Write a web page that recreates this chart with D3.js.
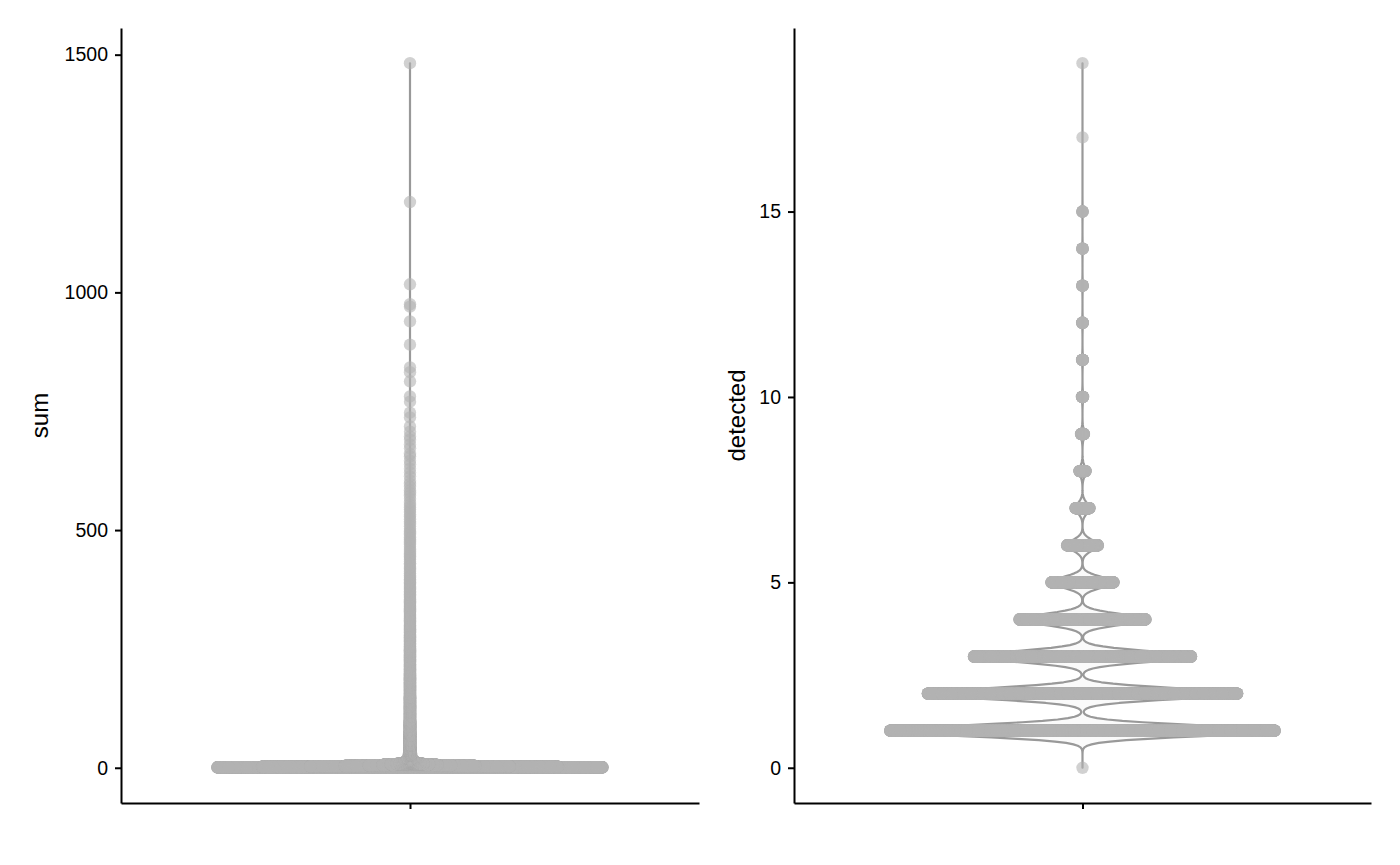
<!DOCTYPE html>
<html><head><meta charset="utf-8">
<script src="https://cdn.jsdelivr.net/npm/d3@7"></script>
<style>body{margin:0;background:#fff}svg{display:block}</style>
</head><body>
<svg id="chart" width="1400" height="865"></svg>
<script>
// ---------- data ----------
const detectedLevels = [0,1,2,3,4,5,6,7,8,9,10,11,12,13,14,15,17,19];
const detectedCounts = [1,6500,5230,3670,2130,1050,520,235,105,50,20,15,12,10,8,6,1,1];

const sumLowValues = [0,1,2,3,4,5,6,7,8,9,10,11,12,13,14,15,16,17,18,19,20];
const sumLowCounts = [1,5600,4300,2900,1900,1200,800,560,400,300,230,180,150,120,100,85,72,62,54,47,42];
// histogram of the dense "stem" of sums (bin edges and counts)
const sumStemBreaks = [20,30,50,75,100,150,200,250,300,350,400,450,500,550,600,650];
const sumStemCounts = [300,350,200,120,120,70,45,32,24,18,14,12,10,8,6];
// individually visible high sums
const sumTailValues = [655,660,672,680,690,697,707,718,737,747,770,781,813,832,842,890,939,970,975,1017,1190,1482];

const sumTicks = [0,500,1000,1500];
const detectedTicks = [0,5,10,15];
const categories = [""];
const violinAdjust = 0.8;

// ---------- helpers ----------
function expandCounts(vals, counts){
  const out=[]; vals.forEach((v,i)=>{for(let k=0;k<counts[i];k++) out.push(v);}); return out;
}
function expandHist(breaks, counts){
  const out=[];
  counts.forEach((c,i)=>{const a=breaks[i], b=breaks[i+1];
    for(let k=0;k<c;k++) out.push(Math.round(a+(k+0.5)*(b-a)/c));});
  return out;
}
function quantile7(sorted,p){const h=(sorted.length-1)*p, lo=Math.floor(h);
  return sorted[lo]+(h-lo)*((sorted[Math.min(lo+1,sorted.length-1)])-sorted[lo]);}
function nrd0(vals){
  const s=vals.slice().sort((a,b)=>a-b);
  const sd=d3.deviation(s); const iqr=quantile7(s,0.75)-quantile7(s,0.25);
  let lo=Math.min(sd, iqr/1.34); if(!(lo>0)) lo = sd || Math.abs(s[0]) || 1;
  return 0.9*lo*Math.pow(s.length,-0.2);
}
function kdeFactory(vals,bw){
  const m=d3.rollup(vals,v=>v.length,d=>d);
  const u=[...m.keys()], c=u.map(k=>m.get(k));
  return y=>{let s=0; for(let j=0;j<u.length;j++){const z=(y-u[j])/bw; if(Math.abs(z)<9) s+=c[j]*Math.exp(-0.5*z*z);} return s;};
}
function vdc(n){ // van der Corput, base 2
  let r=0, f=0.5; while(n>0){ r+=f*(n&1); n>>=1; f*=0.5;} return r;
}

// ---------- layout ----------
const svg=d3.select("#chart");
const FONT='"Liberation Sans", Arial, Helvetica, sans-serif';

function panel(values, ticks, xr, title, titleX){
  const yTop=28, yBot=803;
  const [mn,mx]=d3.extent(values);
  const pad=(mx-mn)*0.05;
  const y=d3.scaleLinear().domain([mn-pad,mx+pad]).range([yBot,yTop]);
  const x=d3.scalePoint().domain(categories).range(xr).padding(0.6);
  const xc=x(categories[0]), step=x.step();
  const g=svg.append("g");

  // violin (ggplot stat_ydensity: 512 grid, trim, scale="width", width=0.8)
  const bw=nrd0(values)*violinAdjust;
  const kde=kdeFactory(values,bw);
  const grid=d3.range(512).map(i=>mn+(mx-mn)*i/511);
  const dens=grid.map(kde); const dmax=d3.max(dens);
  const vdata=grid.map((v,i)=>({v, w:dens[i]/dmax}));
  const area=d3.area().x0(d=>xc-d.w*0.4*step).x1(d=>xc+d.w*0.4*step).y(d=>y(d.v));
  g.append("path").datum(vdata).attr("d",area)
    .attr("fill","#e5e5e5").attr("fill-opacity",0.2)
    .attr("stroke","#999999").attr("stroke-width",2.2).attr("stroke-linejoin","round");

  // quasirandom points (vipor-like, adjust=0.5, width=0.4)
  const kde2=kdeFactory(values,nrd0(values)*0.5);
  const uniq=[...new Set(values)];
  const dmap=new Map(uniq.map(u=>[u,kde2(u)]));
  const d2max=d3.max([...dmap.values()]);
  const sorted=values.slice().sort((a,b)=>a-b);
  const pts=sorted.map((v,i)=>({v, off:(vdc(i+1)-0.5)*2*(dmap.get(v)/d2max)*0.4*step}));
  g.append("g").selectAll("circle").data(pts).join("circle")
    .attr("cx",d=>xc+d.off).attr("cy",d=>y(d.v)).attr("r",6.2)
    .attr("fill","#b3b3b3").attr("fill-opacity",0.6);

  // axes
  const ya=g.append("g").attr("transform",`translate(${xr[0]},0)`)
    .call(d3.axisLeft(y).tickValues(ticks).tickFormat(d3.format("d")).tickSize(6).tickSizeOuter(0).tickPadding(7));
  const xa=g.append("g").attr("transform",`translate(0,${yBot})`)
    .call(d3.axisBottom(x).tickSize(6).tickSizeOuter(0).tickFormat(()=>""));
  [ya,xa].forEach(a=>{
    a.select(".domain").attr("stroke","#000").attr("stroke-width",2);
    a.selectAll(".tick line").attr("stroke","#000").attr("stroke-width",2);
    a.selectAll("text").attr("fill","#000").style("font-family",FONT).style("font-size","19.5px");
  });
  g.append("text").attr("transform",`translate(${titleX},${(yTop+yBot)/2}) rotate(-90)`)
    .attr("text-anchor","middle").style("font-family",FONT).style("font-size","24px")
    .attr("fill","#000").text(title);
}

const sumValues=[...expandCounts(sumLowValues,sumLowCounts), ...expandHist(sumStemBreaks,sumStemCounts), ...sumTailValues];
const detectedValues=expandCounts(detectedLevels,detectedCounts);

panel(sumValues, sumTicks, [121,699], "sum", 48);
panel(detectedValues, detectedTicks, [794,1371], "detected", 745);
</script>
</body></html>
